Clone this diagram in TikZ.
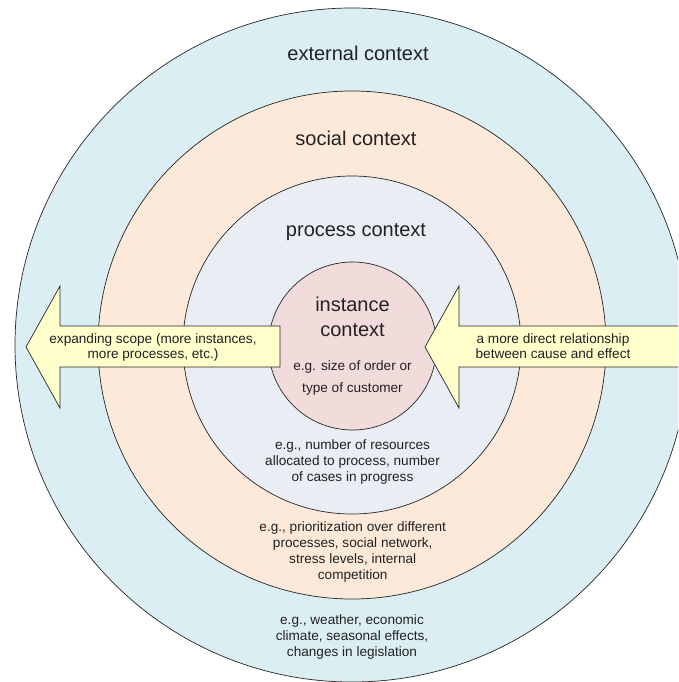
\documentclass[tikz,border=0pt]{standalone}
\usepackage{fontspec}
\setmainfont{Liberation Sans}
\definecolor{outerfill}{HTML}{DAEEF3}
\definecolor{socialfill}{HTML}{FDE9D9}
\definecolor{processfill}{HTML}{E9EDF4}
\definecolor{instfill}{HTML}{F2DCDB}
\definecolor{arrowfill}{HTML}{FFFFCC}
\definecolor{txt}{HTML}{222222}
\begin{document}
\begin{tikzpicture}[x=1pt,y=-1pt,
  ring/.style={circle, draw=black!85, line width=0.7pt, inner sep=0pt},
  title/.style={font=\fontsize{20}{25}\selectfont, text=txt, align=center, inner sep=0pt},
  small/.style={font=\fontsize{13.6}{16.3}\selectfont, text=txt, align=center, inner sep=0pt},
  arrowshape/.style={draw=black!85, line width=0.7pt, fill=arrowfill, line join=miter},
]
\useasboundingbox (0,0) rectangle (678,682);
\begin{scope}
\clip (0,0) rectangle (678,682);
\coordinate (c) at (352,345);
\node[ring, fill=outerfill, minimum size=674pt] (ext) at (c) {};
\node[ring, fill=socialfill, minimum size=508pt] (soc) at (c) {};
\node[ring, fill=processfill, minimum size=338pt] (proc) at (c) {};
\node[ring, fill=instfill, minimum size=168pt] (inst) at (352.5,346) {};

\node[title] (exttitle) at (358,53) {external context};
\node[title] (soctitle) at (356,138) {social context};
\node[title] (proctitle) at (356,232) {process context};
\node[title] (insttitle) at (352.5,317) {instance\\context};

\node[small, font=\fontsize{13.6}{22}\selectfont] (insttext) at (352.5,378) {e.g. size of order or\\type of customer};
\node[small] (proctext) at (352.5,462) {e.g., number of resources\\allocated to process, number\\of cases in progress};
\node[small] (soctext) at (352.7,552) {e.g., prioritization over different\\processes, social network,\\stress levels, internal\\competition};
\node[small] (exttext) at (352,637) {e.g., weather, economic\\climate, seasonal effects,\\changes in legislation};

\draw[arrowshape] (26,347) -- (60,286) -- (60,326) -- (280,326) -- (280,367) -- (60,367) -- (60,408) -- cycle;
\draw[arrowshape] (425,347) -- (459,286) -- (459,326) -- (679,326) -- (679,367) -- (459,367) -- (459,408) -- cycle;

\node[small, font=\fontsize{13.6}{15.3}\selectfont] (lefttext) at (153,347.5) {expanding scope (more instances,\\more processes, etc.)};
\node[small, font=\fontsize{13.6}{15.6}\selectfont] (righttext) at (553,346) {a more direct relationship\\between cause and effect};
\end{scope}
\end{tikzpicture}
\end{document}
